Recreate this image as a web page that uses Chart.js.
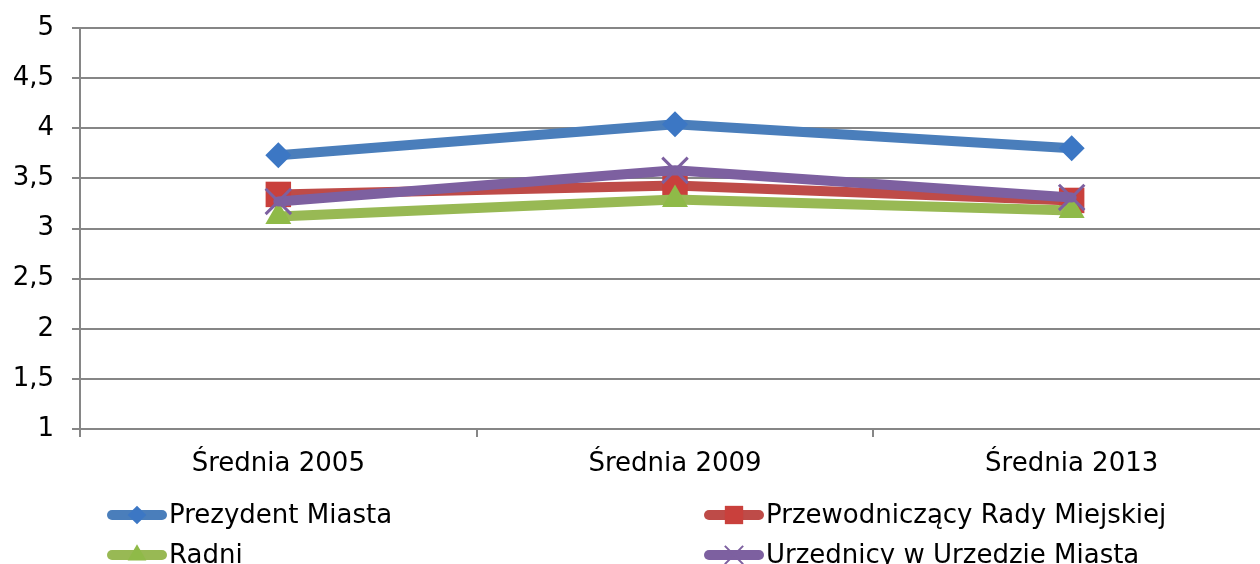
<!DOCTYPE html>
<html>
<head>
<meta charset="utf-8">
<script src="https://cdn.jsdelivr.net/npm/chart.js@4"></script>
<style>
  html, body { margin: 0; padding: 0; background: #fff; overflow: hidden; }
  #chart { display: block; }
</style>
</head>
<body>
<canvas id="chart" width="1291" height="564" style="width:1291px;height:564px"></canvas>
<script>
// categories and series
const categories = ['Średnia 2005', 'Średnia 2009', 'Średnia 2013'];
const seriesNames = ['Prezydent Miasta', 'Przewodniczący Rady Miejskiej', 'Radni', 'Urzednicy w Urzedzie Miasta'];
const prezydent = [3.73, 4.04, 3.80];
const przewodniczacy = [3.34, 3.43, 3.28];
const radni = [3.12, 3.29, 3.18];
const urzednicy = [3.27, 3.58, 3.31];
const yTicks = [1, 1.5, 2, 2.5, 3, 3.5, 4, 4.5, 5];

const FONT = 'DejaVu Sans, Verdana, sans-serif';
const colors = ['#4a7ebb', '#be4b48', '#98b954', '#7d60a0'];
const markerColors = ['#3c77c4', '#c9403c', '#8fba48', '#7d60a0'];
const styles = ['rectRot', 'rect', 'triangle', 'crossRot'];
const radii = [13, 18, 15, 18];
const values = [prezydent, przewodniczacy, radni, urzednicy];

const datasets = seriesNames.map((name, i) => ({
    label: name,
    data: values[i],
    borderColor: colors[i],
    backgroundColor: markerColors[i],
    borderWidth: 10,
    borderCapStyle: 'round',
    pointStyle: styles[i],
    pointRadius: radii[i],
    pointBorderWidth: i === 3 ? 3 : 0,
    pointBorderColor: colors[i],
    order: 4 - i // last series drawn on top, like the original
}));

// legend drawn under the axis, two columns
const legendPlugin = {
    id: 'twoColLegend',
    afterDraw(chart) {
        const ctx = chart.ctx;
        const cols = [108, 705];
        const rows = [515, 555];
        ctx.save();
        seriesNames.forEach((name, i) => {
            const x = cols[i % 2];
            const y = rows[Math.floor(i / 2)];
            ctx.strokeStyle = colors[i];
            ctx.lineWidth = 10;
            ctx.lineCap = 'round';
            ctx.beginPath();
            ctx.moveTo(x + 4, y);
            ctx.lineTo(x + 54, y);
            ctx.stroke();
            ctx.fillStyle = markerColors[i];
            ctx.strokeStyle = colors[i];
            ctx.lineWidth = 2;
            ctx.lineCap = 'butt';
            Chart.helpers.drawPoint(ctx, {
                pointStyle: styles[i],
                radius: radii[i] * 0.72,
                borderWidth: i === 3 ? 2 : 0
            }, x + 29, y);
            ctx.fillStyle = '#000';
            ctx.font = '26px ' + FONT;
            ctx.textBaseline = 'middle';
            ctx.textAlign = 'left';
            ctx.fillText(name, x + 61, y + 1);
        });
        ctx.restore();
    }
};

new Chart(document.getElementById('chart'), {
    type: 'line',
    data: { labels: categories, datasets: datasets },
    options: {
        responsive: false,
        animation: false,
        devicePixelRatio: 1,
        layout: { padding: { top: 28, right: 4, left: 0, bottom: 0 } },
        scales: {
            x: {
                offset: true,
                grid: {
                    offset: true,
                    drawOnChartArea: false,
                    drawTicks: true,
                    tickLength: 8,
                    color: '#868686',
                    lineWidth: 2
                },
                border: { display: true, color: '#868686', width: 2 },
                ticks: { color: '#000', font: { family: FONT, size: 26 }, padding: 12, maxRotation: 0 },
                afterFit(scale) {
                    scale.height = 135;
                    scale.paddingLeft = 0;
                    scale.paddingRight = 0;
                }
            },
            y: {
                min: 1,
                max: 5,
                afterBuildTicks(scale) { scale.ticks = yTicks.map(v => ({ value: v })); },
                grid: { color: '#868686', lineWidth: 2, tickLength: 8 },
                border: { display: true, color: '#868686', width: 2 },
                ticks: {
                    color: '#000',
                    font: { family: FONT, size: 26 },
                    padding: 18,
                    callback: v => String(v).replace('.', ',')
                },
                afterFit(scale) {
                    scale.width = 80;
                    scale.paddingTop = 0;
                    scale.paddingBottom = 0;
                }
            }
        },
        plugins: {
            legend: { display: false },
            tooltip: { enabled: false }
        }
    },
    plugins: [legendPlugin]
});
</script>
</body>
</html>
